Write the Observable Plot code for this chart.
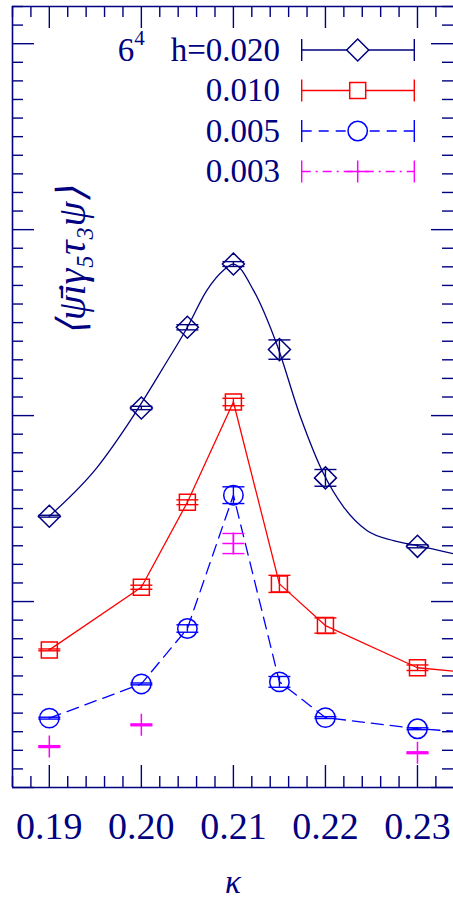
<!DOCTYPE html>
<html><head><meta charset="utf-8">
<script src="https://cdn.jsdelivr.net/npm/d3@7"></script>
<script src="https://cdn.jsdelivr.net/npm/@observablehq/plot@0.6"></script>
<style>body{margin:0;background:#fff;}</style>
</head><body><div id="chart"></div>
<script>
// ---- data ----
const kappa020 = [0.19, 0.20, 0.205, 0.21, 0.215, 0.22, 0.23];
const value020 = [1.459, 2.041, 2.475, 2.815, 2.355, 1.665, 1.297];
const error020 = [0.005, 0.009, 0.014, 0.013, 0.052, 0.045, 0.008];

const fitKappa020 = [0.19, 0.1952, 0.1988, 0.2024, 0.205, 0.2071, 0.2089, 0.21, 0.2122, 0.2147, 0.2173, 0.2198, 0.2220, 0.2245, 0.2274, 0.23, 0.234];
const fitValue020 = [1.459, 1.722, 1.973, 2.260, 2.475, 2.672, 2.780, 2.815, 2.672, 2.385, 1.991, 1.687, 1.507, 1.382, 1.328, 1.301, 1.256];

const kappa010 = [0.19, 0.20, 0.205, 0.21, 0.215, 0.22, 0.23, 0.24];
const value010 = [0.740, 1.077, 1.534, 2.073, 1.095, 0.871, 0.644, 0.598];
const error010 = [0.005, 0.011, 0.013, 0.020, 0.046, 0.041, 0.015, 0.015];

const kappa005 = [0.19, 0.20, 0.205, 0.21, 0.215, 0.22, 0.23, 0.24];
const value005 = [0.373, 0.557, 0.855, 1.572, 0.568, 0.376, 0.316, 0.283];
const error005 = [0.005, 0.005, 0.020, 0.045, 0.029, 0.005, 0.005, 0.005];

const kappa003 = [0.19, 0.20, 0.21, 0.23];
const value003 = [0.220, 0.337, 1.312, 0.187];
const error003 = [0.005, 0.005, 0.054, 0.005];

const seriesLabels = ["h=0.020", "0.010", "0.005", "0.003"];
const latticeBase = "6", latticeExp = "4";
const xTickValues = [0.19, 0.20, 0.21, 0.22, 0.23];
const xDomain = [0.186, 0.234];
const yDomain = [0, 4.2];
const yMajorTicks = [0, 1, 2, 3, 4];
const xLabel = "κ";
const yLabel = "⟨ψ̄iγ₅τ₃ψ⟩";

// ---- styling ----
const NAVY = "#000080", RED = "#ff0000", BLUE = "#0000ff", MAG = "#ff00ff";
const FONT = "Liberation Serif";
const W = 453, H = 901, mL = 12, mT = 6, mR = 0, mB = 114;
const frameW = W - mL - mR, frameH = H - mT - mB;

const rows = (k, v, e) => k.map((x, i) => ({k: x, v: v[i], e: e[i]}));
const d020 = rows(kappa020, value020, error020);
const d010 = rows(kappa010, value010, error010);
const d005 = rows(kappa005, value005, error005);
const d003 = rows(kappa003, value003, error003);
const fit020 = fitKappa020.map((k, i) => ({k, v: fitValue020[i]}));

const xMinor = d3.range(0, 25).map(i => +(xDomain[0] + i * 0.002).toFixed(3)).filter(v => !xTickValues.some(t => Math.abs(t - v) < 1e-9));
const yMinor = d3.range(0, 43).map(i => +(i * 0.1).toFixed(1)).filter(v => !yMajorTicks.includes(v));

// custom symbols: r is the half-size in px
const sym = f => ({draw(c, size) { const r = Math.sqrt(size / Math.PI); f(c, r); }});
const diamond = sym((c, r) => { c.moveTo(0, -r); c.lineTo(r, 0); c.lineTo(0, r); c.lineTo(-r, 0); c.closePath(); });
const square = sym((c, r) => { c.moveTo(-r, -r); c.lineTo(r, -r); c.lineTo(r, r); c.lineTo(-r, r); c.closePath(); });
const circle = sym((c, r) => { c.moveTo(r, 0); c.arc(0, 0, r, 0, 2 * Math.PI); });
const plus = sym((c, r) => { c.moveTo(-r, 0); c.lineTo(r, 0); c.moveTo(0, -r); c.lineTo(0, r); });
const cap = sym((c, r) => { c.moveTo(-r, 0); c.lineTo(r, 0); });

function errorMarks(data, color) {
  return [
    Plot.ruleX(data, {x: "k", y1: d => d.v - d.e, y2: d => d.v + d.e, stroke: color, strokeWidth: 1.4, clip: true}),
    Plot.dot(data, {x: "k", y: d => d.v - d.e, symbol: cap, r: 11, stroke: color, fill: "none", strokeWidth: 1.4, clip: true}),
    Plot.dot(data, {x: "k", y: d => d.v + d.e, symbol: cap, r: 11, stroke: color, fill: "none", strokeWidth: 1.4, clip: true})
  ];
}

const chart = Plot.plot({
  width: W, height: H,
  marginLeft: mL, marginTop: mT, marginRight: mR, marginBottom: mB,
  style: {color: NAVY, background: "#fff"},
  x: {domain: xDomain, range: [mL, 453.8], axis: null},
  y: {domain: yDomain, axis: null},
  marks: [
    // frame (left, bottom, top)
    Plot.ruleX([xDomain[0]], {stroke: NAVY, strokeWidth: 1.6}),
    Plot.ruleY(yDomain, {stroke: NAVY, strokeWidth: 1.6}),
    // ticks bottom/top
    Plot.tickX(xTickValues, {x: d => d, insetTop: frameH - 22, stroke: NAVY, strokeWidth: 1.4}),
    Plot.tickX(xMinor, {x: d => d, insetTop: frameH - 11, stroke: NAVY, strokeWidth: 1.4}),
    Plot.tickX(xTickValues, {x: d => d, insetBottom: frameH - 22, stroke: NAVY, strokeWidth: 1.4}),
    Plot.tickX(xMinor, {x: d => d, insetBottom: frameH - 11, stroke: NAVY, strokeWidth: 1.4}),
    // ticks left/right
    Plot.tickY(yMajorTicks, {y: d => d, insetRight: frameW - 22, stroke: NAVY, strokeWidth: 1.4}),
    Plot.tickY(yMinor, {y: d => d, insetRight: frameW - 11, stroke: NAVY, strokeWidth: 1.4}),
    Plot.tickY(yMajorTicks, {y: d => d, insetLeft: frameW - 22, stroke: NAVY, strokeWidth: 1.4}),
    Plot.tickY(yMinor, {y: d => d, insetLeft: frameW - 11, stroke: NAVY, strokeWidth: 1.4}),
    // x tick labels
    Plot.axisX(xTickValues, {anchor: "bottom", label: null, tickSize: 0, tickPadding: 25, tickFormat: d3.format(".2f"),
      fontSize: 38, fontFamily: FONT, fill: NAVY}),
    // axis titles
    Plot.text([xLabel], {text: d => d, frameAnchor: "bottom", lineAnchor: "middle", dy: 95,
      fontSize: 33, fontStyle: "italic", fontFamily: FONT, fill: NAVY}),
    Plot.text([yLabel], {text: d => d, frameAnchor: "left", textAnchor: "middle", lineAnchor: "middle",
      rotate: -90, dx: 60, dy: -136, fontSize: 40, fontStyle: "italic", fontFamily: FONT, fill: NAVY}),
    // series lines
    Plot.line(fit020, {x: "k", y: "v", curve: "monotone-x", stroke: NAVY, strokeWidth: 1.3, clip: true}),
    Plot.line(d010, {x: "k", y: "v", stroke: RED, strokeWidth: 1.3, clip: true}),
    Plot.line(d005, {x: "k", y: "v", stroke: BLUE, strokeWidth: 1.3, strokeDasharray: "12,7", clip: true}),
    // error bars
    ...errorMarks(d020, NAVY),
    ...errorMarks(d010, RED),
    ...errorMarks(d005, BLUE),
    ...errorMarks(d003, MAG),
    // markers
    Plot.dot(d020, {x: "k", y: "v", symbol: diamond, r: 11, stroke: NAVY, fill: "none", strokeWidth: 1.5, clip: true}),
    Plot.dot(d010, {x: "k", y: "v", symbol: square, r: 8, stroke: RED, fill: "none", strokeWidth: 1.5, clip: true}),
    Plot.dot(d005, {x: "k", y: "v", symbol: circle, r: 9.7, stroke: BLUE, fill: "none", strokeWidth: 1.5, clip: true}),
    Plot.dot(d003, {x: "k", y: "v", symbol: plus, r: 11, stroke: MAG, fill: "none", strokeWidth: 1.5, clip: true})
  ]
});
document.getElementById("chart").appendChild(chart);

// ---- legend inside the frame ----
const legendItems = [
  {label: seriesLabels[0], color: NAVY, dash: null, symbol: diamond, r: 11, prefix: true},
  {label: seriesLabels[1], color: RED, dash: null, symbol: square, r: 8},
  {label: seriesLabels[2], color: BLUE, dash: "10,7", symbol: circle, r: 9.7},
  {label: seriesLabels[3], color: MAG, dash: "9,5,2,5", symbol: plus, r: 11}
];
const svg = d3.select(chart);
const lg = svg.append("g");
const rowY = [50, 90.5, 131, 171.5];
const tx = 280, lx1 = 301.7, lx2 = 414.3, lxm = 357.7;
legendItems.forEach((it, i) => {
  const y = rowY[i];
  const t = lg.append("text").attr("x", tx).attr("y", y + 10.5).attr("text-anchor", "end")
    .attr("font-family", FONT).attr("font-size", 33).attr("fill", NAVY);
  if (it.prefix) {
    t.append("tspan").text(latticeBase);
    t.append("tspan").attr("font-size", 21).attr("dy", -16).text(latticeExp);
    t.append("tspan").attr("dy", 16).attr("dx", 26).text(it.label);
  } else {
    t.text(it.label);
  }
  lg.append("line").attr("x1", lx1).attr("x2", lx2).attr("y1", y).attr("y2", y)
    .attr("stroke", it.color).attr("stroke-width", 1.4).attr("stroke-dasharray", it.dash);
  [lx1, lx2].forEach(x => lg.append("line").attr("x1", x).attr("x2", x).attr("y1", y - 11).attr("y2", y + 11)
    .attr("stroke", it.color).attr("stroke-width", 1.4));
  const p = d3.path();
  it.symbol.draw(p, it.r * it.r * Math.PI);
  lg.append("path").attr("d", p.toString()).attr("transform", `translate(${lxm},${y})`)
    .attr("fill", "#fff").attr("stroke", it.color).attr("stroke-width", 1.5);
});
</script>
</body></html>
